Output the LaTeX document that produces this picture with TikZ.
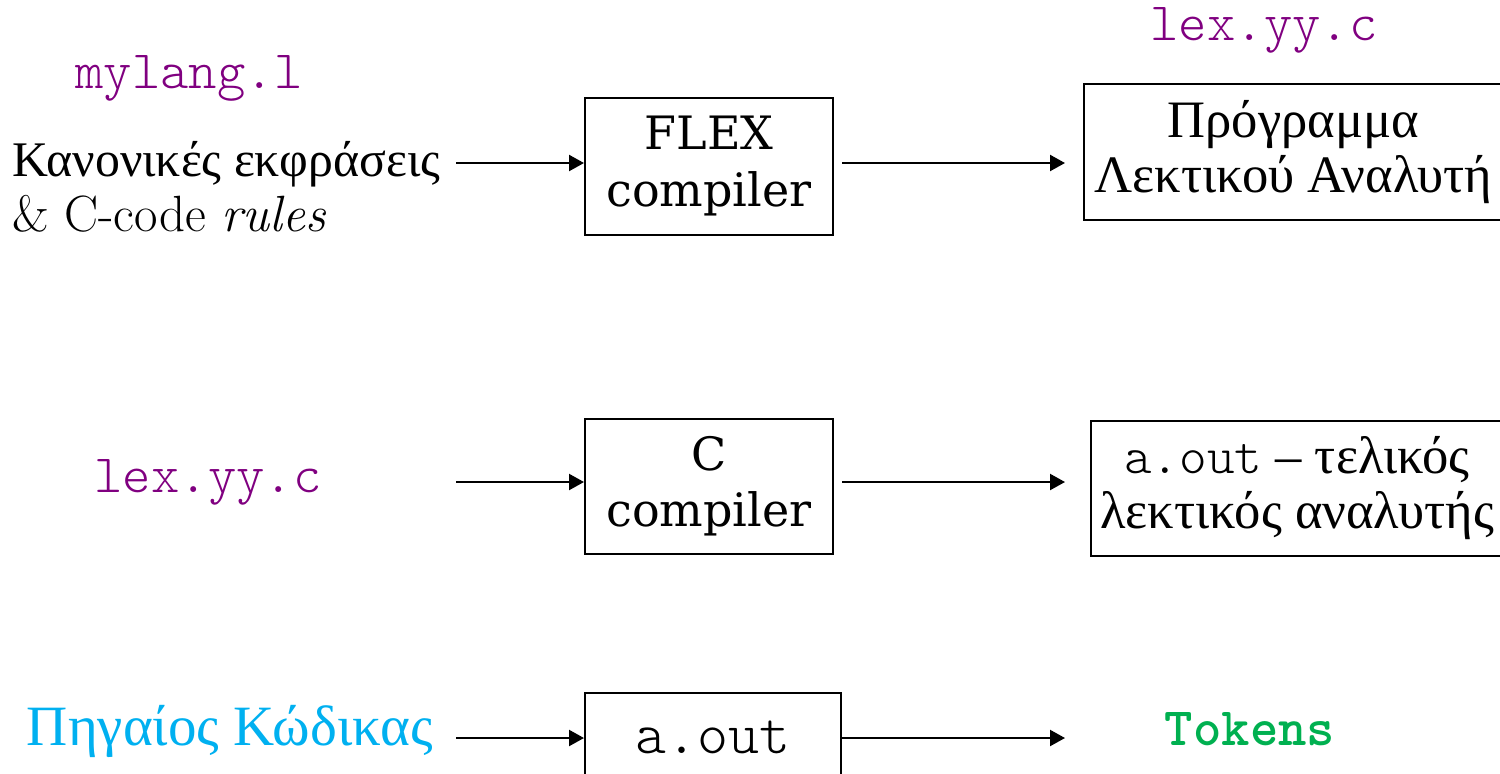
\documentclass[tikz,border=0pt]{standalone}
\usepackage{fontspec}
\setmonofont{lmmonolt10-regular.otf}[BoldFont=lmmonolt10-bold.otf]
\newfontfamily\gr{Liberation Serif}
\newfontfamily\boxfont{DejaVu Serif}
\usetikzlibrary{arrows.meta}
\definecolor{fpurple}{RGB}{128,0,128}
\definecolor{fcyan}{RGB}{0,176,240}
\definecolor{fgreen}{RGB}{0,176,80}
\begin{document}
\begin{tikzpicture}[x=0.5pt,y=-0.5pt,
  box/.style={draw,line width=1pt,inner sep=0pt,align=center,anchor=north west},
  arr/.style={line width=1.15pt,-{Triangle[length=7.5pt,width=8pt]}},
  fname/.style={anchor=base,text=fpurple,font=\fontsize{27}{30}\ttfamily}
]
\clip (0,0) rectangle (1500,773);
% row 1
\node[fname] (mylang) at (189,88) {mylang.l};
\node[fname] (lexout) at (1264,40) {lex.yy.c};
\node[anchor=west,align=left,inner sep=0pt,font=\fontsize{25.5}{27.5}\selectfont] (regex) at (12,187)
  {{\gr\fontsize{24.9}{27.5}\selectfont Κανονικές εκφράσεις}\\\& C-code \textit{rules}};
\node[box,minimum width=124pt,minimum height=68.5pt,font=\fontsize{23}{28.5}\boxfont] (flex) at (584,97) {FLEX\\compiler};
\node[box,minimum width=209.5pt,minimum height=68pt,font=\fontsize{26.3}{27.5}\gr] (prog) at (1083,83) {Πρόγραμμα\\Λεκτικού Αναλυτή};
\coordinate (s1) at (456,163);
\draw[arr] (s1) -- (s1 -| flex.west);
\draw[arr,shorten <=4pt,shorten >=9pt] (flex.east |- s1) -- (s1 -| prog.west);
% row 2
\node[fname] (lexin) at (208,492) {lex.yy.c};
\node[box,minimum width=124pt,minimum height=67.5pt,font=\fontsize{23}{28}\boxfont] (cc) at (584,418) {C\\compiler};
\node[box,minimum width=206pt,minimum height=67.5pt,font=\fontsize{26.3}{27.5}\gr] (aout) at (1090,420)
  {{\fontsize{26.3}{27.5}\ttfamily a.out} – τελικός\\λεκτικός αναλυτής};
\coordinate (s2) at (456,482);
\draw[arr] (s2) -- (s2 -| cc.west);
\draw[arr,shorten <=4pt,shorten >=12.5pt] (cc.east |- s2) -- (s2 -| aout.west);
% row 3
\node[anchor=base,text=fcyan,font=\fontsize{28.5}{30}\gr] (src) at (230,745) {Πηγαίος Κώδικας};
\node[box,minimum width=128pt,minimum height=44pt,font=\fontsize{29.5}{30}\ttfamily] (run) at (584,692) {a.out};
\node[anchor=base,text=fgreen,font=\fontsize{27}{30}\ttfamily\bfseries] (tok) at (1250,745) {Tokens};
\coordinate (s3) at (456,738);
\coordinate (e3) at (1065,738);
\draw[arr] (s3) -- (s3 -| run.west);
\draw[arr] (run.east |- s3) -- (e3);
\end{tikzpicture}
\end{document}
